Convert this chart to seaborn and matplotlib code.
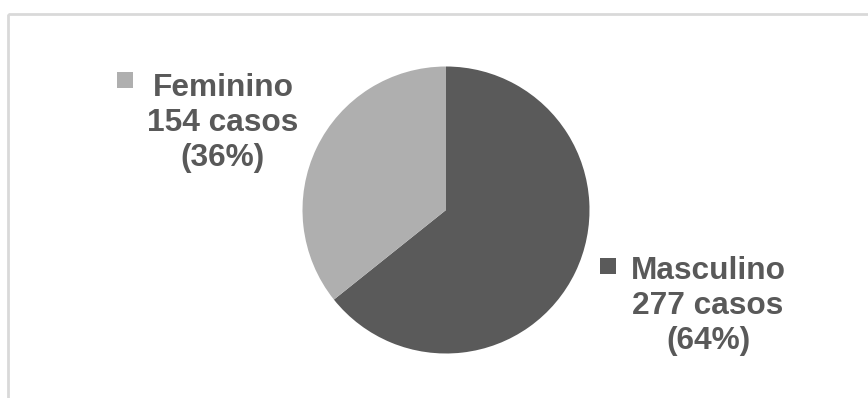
import matplotlib
matplotlib.use("Agg")
import matplotlib.pyplot as plt
import seaborn as sns
from matplotlib.patches import Rectangle

categories = ["Masculino", "Feminino"]
casos = [277, 154]
percent_labels = ["(64%)", "(36%)"]
colors = ["#5a5a5a", "#afafaf"]

sns.set_theme(style="white")
plt.rcParams['font.family'] = ['Liberation Sans', 'DejaVu Sans']

W, H = 868, 398
fig = plt.figure(figsize=(W / 100, H / 100), dpi=100)
ax = fig.add_axes([0, 0, 1, 1])

# pie drawn in pixel-like data coords (y axis inverted afterwards),
# so start at -90 and go counterclockwise in data = clockwise from top on screen
ax.pie(casos, colors=colors, startangle=-90, counterclock=True,
       center=(446, 210), radius=143.5, frame=True,
       wedgeprops=dict(linewidth=0))
ax.set_xlim(0, W)
ax.set_ylim(H, 0)
ax.set_aspect('equal')
ax.axis('off')

# chart frame (top and left visible)
ax.add_patch(Rectangle((8, 14), W + 20, H + 20, fill=False,
                       edgecolor="#d9d9d9", linewidth=2))

text_color = "#595959"
fs = 22.8
label_pos = {"Masculino": (708, 306), "Feminino": (223, 123)}
marker_pos = {"Masculino": (608, 266), "Feminino": (125, 80)}
for cat, n, pct, col in zip(categories, casos, percent_labels, colors):
    x, y = label_pos[cat]
    ax.text(x, y, f"{cat}\n{n} casos\n{pct}", ha="center", va="center",
            fontsize=fs, fontweight="bold", color=text_color,
            linespacing=1.2)
    mx, my = marker_pos[cat]
    ax.add_patch(Rectangle((mx - 8, my - 8), 16, 16, color=col, linewidth=0))

fig.savefig("out.png", dpi=100)
